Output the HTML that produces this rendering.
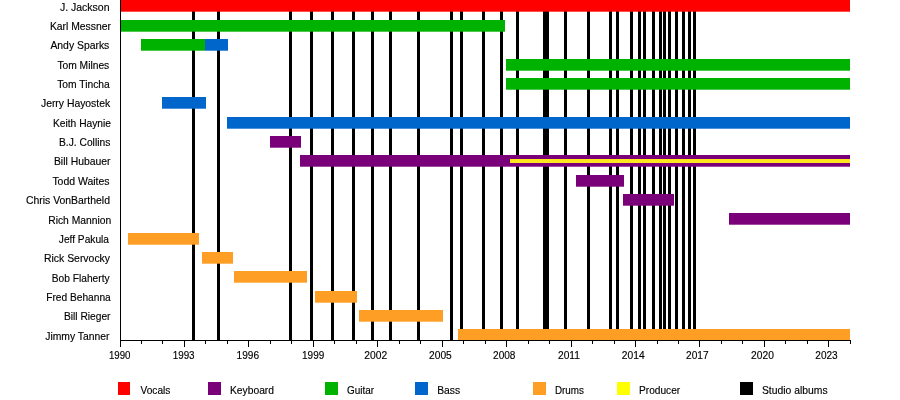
<!DOCTYPE html>
<html lang="en"><head><meta charset="utf-8"><title>Timeline</title>
<style>html,body{margin:0;padding:0;background:#fff}body{width:900px;height:400px;overflow:hidden}svg{display:block;will-change:transform}text{font-family:"Liberation Sans",sans-serif;font-size:11px;fill:#000;stroke:#000;stroke-width:0.15px}</style></head><body>
<svg width="900" height="400" viewBox="0 0 900 400">
<rect x="0" y="0" width="900" height="400" fill="#ffffff"/>
<g fill="#000" shape-rendering="crispEdges">
<rect x="192" y="0" width="3" height="340"/>
<rect x="217" y="0" width="3" height="340"/>
<rect x="289" y="0" width="3" height="340"/>
<rect x="310" y="0" width="3" height="340"/>
<rect x="331" y="0" width="3" height="340"/>
<rect x="352" y="0" width="3" height="340"/>
<rect x="371" y="0" width="3" height="340"/>
<rect x="389" y="0" width="3" height="340"/>
<rect x="417" y="0" width="3" height="340"/>
<rect x="450" y="0" width="3" height="340"/>
<rect x="460" y="0" width="3" height="340"/>
<rect x="482" y="0" width="3" height="340"/>
<rect x="500" y="0" width="3" height="340"/>
<rect x="516" y="0" width="3" height="340"/>
<rect x="543" y="0" width="6" height="340"/>
<rect x="564" y="0" width="3" height="340"/>
<rect x="587" y="0" width="3" height="340"/>
<rect x="609" y="0" width="3" height="340"/>
<rect x="616" y="0" width="3" height="340"/>
<rect x="630" y="0" width="3" height="340"/>
<rect x="638" y="0" width="3" height="340"/>
<rect x="643" y="0" width="3" height="340"/>
<rect x="652" y="0" width="3" height="340"/>
<rect x="659" y="0" width="3" height="340"/>
<rect x="663" y="0" width="3" height="340"/>
<rect x="668" y="0" width="3" height="340"/>
<rect x="675" y="0" width="3" height="340"/>
<rect x="682" y="0" width="3" height="340"/>
<rect x="688" y="0" width="3" height="340"/>
<rect x="693" y="0" width="3" height="340"/>
</g>
<g>
<rect x="120" y="0" width="730" height="11.7" fill="#ff0000"/>
<rect x="120" y="20" width="385" height="11.7" fill="#00b200"/>
<rect x="141" y="39" width="64" height="11.7" fill="#00b200"/>
<rect x="205" y="39" width="23" height="11.7" fill="#0066cc"/>
<rect x="506" y="59" width="344" height="11.7" fill="#00b200"/>
<rect x="506" y="78" width="344" height="11.7" fill="#00b200"/>
<rect x="162" y="97" width="44" height="11.7" fill="#0066cc"/>
<rect x="227" y="117" width="623" height="11.7" fill="#0066cc"/>
<rect x="270" y="136" width="31" height="11.7" fill="#7a007a"/>
<rect x="300" y="155" width="550" height="11.7" fill="#7a007a"/>
<rect x="576" y="175" width="48" height="11.7" fill="#7a007a"/>
<rect x="623" y="194" width="51" height="11.7" fill="#7a007a"/>
<rect x="729" y="213" width="121" height="11.7" fill="#7a007a"/>
<rect x="128" y="233" width="71" height="11.7" fill="#ff9e24"/>
<rect x="202" y="252" width="31" height="11.7" fill="#ff9e24"/>
<rect x="234" y="271" width="73" height="11.7" fill="#ff9e24"/>
<rect x="315" y="291" width="42" height="11.7" fill="#ff9e24"/>
<rect x="359" y="310" width="84" height="11.7" fill="#ff9e24"/>
<rect x="458" y="329" width="392" height="11.7" fill="#ff9e24"/>
<rect x="510" y="159" width="340" height="4" fill="#ffe61e"/>
</g>
<g fill="#000" shape-rendering="crispEdges">
<rect x="120" y="0" width="1" height="341"/>
<rect x="120" y="340" width="731" height="1"/>
<rect x="120" y="341" width="1" height="6"/>
<rect x="141" y="341" width="1" height="3"/>
<rect x="162" y="341" width="1" height="3"/>
<rect x="184" y="341" width="1" height="6"/>
<rect x="205" y="341" width="1" height="3"/>
<rect x="227" y="341" width="1" height="3"/>
<rect x="248" y="341" width="1" height="6"/>
<rect x="270" y="341" width="1" height="3"/>
<rect x="291" y="341" width="1" height="3"/>
<rect x="313" y="341" width="1" height="6"/>
<rect x="334" y="341" width="1" height="3"/>
<rect x="356" y="341" width="1" height="3"/>
<rect x="377" y="341" width="1" height="6"/>
<rect x="399" y="341" width="1" height="3"/>
<rect x="420" y="341" width="1" height="3"/>
<rect x="442" y="341" width="1" height="6"/>
<rect x="463" y="341" width="1" height="3"/>
<rect x="485" y="341" width="1" height="3"/>
<rect x="506" y="341" width="1" height="6"/>
<rect x="528" y="341" width="1" height="3"/>
<rect x="549" y="341" width="1" height="3"/>
<rect x="571" y="341" width="1" height="6"/>
<rect x="592" y="341" width="1" height="3"/>
<rect x="614" y="341" width="1" height="3"/>
<rect x="635" y="341" width="1" height="6"/>
<rect x="657" y="341" width="1" height="3"/>
<rect x="678" y="341" width="1" height="3"/>
<rect x="699" y="341" width="1" height="6"/>
<rect x="721" y="341" width="1" height="3"/>
<rect x="742" y="341" width="1" height="3"/>
<rect x="764" y="341" width="1" height="6"/>
<rect x="785" y="341" width="1" height="3"/>
<rect x="807" y="341" width="1" height="3"/>
<rect x="828" y="341" width="1" height="6"/>
<rect x="850" y="341" width="1" height="3"/>
</g>
<g>
<text x="59.95" y="11.00" textLength="49.62" lengthAdjust="spacingAndGlyphs">J. Jackson</text>
<text x="49.91" y="30.00" textLength="60.99" lengthAdjust="spacingAndGlyphs">Karl Messner</text>
<text x="50.41" y="49.00" textLength="58.92" lengthAdjust="spacingAndGlyphs">Andy Sparks</text>
<text x="57.40" y="69.00" textLength="51.85" lengthAdjust="spacingAndGlyphs">Tom Milnes</text>
<text x="57.16" y="88.00" textLength="52.59" lengthAdjust="spacingAndGlyphs">Tom Tincha</text>
<text x="40.95" y="107.00" textLength="69.21" lengthAdjust="spacingAndGlyphs">Jerry Hayostek</text>
<text x="52.98" y="127.00" textLength="58.04" lengthAdjust="spacingAndGlyphs">Keith Haynie</text>
<text x="58.98" y="146.00" textLength="51.34" lengthAdjust="spacingAndGlyphs">B.J. Collins</text>
<text x="53.92" y="165.00" textLength="56.57" lengthAdjust="spacingAndGlyphs">Bill Hubauer</text>
<text x="52.40" y="185.00" textLength="57.18" lengthAdjust="spacingAndGlyphs">Todd Waites</text>
<text x="25.94" y="204.00" textLength="84.00" lengthAdjust="spacingAndGlyphs">Chris VonBartheld</text>
<text x="48.20" y="224.00" textLength="63.01" lengthAdjust="spacingAndGlyphs">Rich Mannion</text>
<text x="58.82" y="243.00" textLength="50.16" lengthAdjust="spacingAndGlyphs">Jeff Pakula</text>
<text x="43.95" y="262.00" textLength="66.11" lengthAdjust="spacingAndGlyphs">Rick Servocky</text>
<text x="51.84" y="282.00" textLength="57.76" lengthAdjust="spacingAndGlyphs">Bob Flaherty</text>
<text x="46.22" y="301.00" textLength="64.54" lengthAdjust="spacingAndGlyphs">Fred Behanna</text>
<text x="63.95" y="320.00" textLength="46.60" lengthAdjust="spacingAndGlyphs">Bill Rieger</text>
<text x="45.22" y="340.00" textLength="64.26" lengthAdjust="spacingAndGlyphs">Jimmy Tanner</text>
<text x="108.91" y="359.00" textLength="21.62" lengthAdjust="spacingAndGlyphs">1990</text>
<text x="172.69" y="359.00" textLength="21.92" lengthAdjust="spacingAndGlyphs">1993</text>
<text x="236.56" y="359.00" textLength="22.55" lengthAdjust="spacingAndGlyphs">1996</text>
<text x="302.00" y="359.00" textLength="22.28" lengthAdjust="spacingAndGlyphs">1999</text>
<text x="364.30" y="359.00" textLength="22.80" lengthAdjust="spacingAndGlyphs">2002</text>
<text x="429.02" y="359.00" textLength="22.77" lengthAdjust="spacingAndGlyphs">2005</text>
<text x="493.07" y="359.00" textLength="22.41" lengthAdjust="spacingAndGlyphs">2008</text>
<text x="558.01" y="359.00" textLength="21.98" lengthAdjust="spacingAndGlyphs">2011</text>
<text x="621.77" y="359.00" textLength="22.88" lengthAdjust="spacingAndGlyphs">2014</text>
<text x="686.09" y="359.00" textLength="22.53" lengthAdjust="spacingAndGlyphs">2017</text>
<text x="751.07" y="359.00" textLength="22.82" lengthAdjust="spacingAndGlyphs">2020</text>
<text x="815.30" y="359.00" textLength="22.38" lengthAdjust="spacingAndGlyphs">2023</text>
</g>
<g>
<rect x="118" y="382" width="12" height="13" fill="#ff0000" shape-rendering="crispEdges"/>
<text x="140.51" y="394.00" textLength="29.89" lengthAdjust="spacingAndGlyphs">Vocals</text>
<rect x="208" y="382" width="13" height="13" fill="#7a007a" shape-rendering="crispEdges"/>
<text x="229.98" y="394.00" textLength="44.03" lengthAdjust="spacingAndGlyphs">Keyboard</text>
<rect x="325" y="382" width="13" height="13" fill="#00b200" shape-rendering="crispEdges"/>
<text x="347.02" y="394.00" textLength="27.11" lengthAdjust="spacingAndGlyphs">Guitar</text>
<rect x="415" y="382" width="13" height="13" fill="#0066cc" shape-rendering="crispEdges"/>
<text x="437.16" y="394.00" textLength="22.92" lengthAdjust="spacingAndGlyphs">Bass</text>
<rect x="533" y="382" width="13" height="13" fill="#ff9e24" shape-rendering="crispEdges"/>
<text x="554.98" y="394.00" textLength="28.94" lengthAdjust="spacingAndGlyphs">Drums</text>
<rect x="617" y="382" width="13" height="13" fill="#ffff00" shape-rendering="crispEdges"/>
<text x="639.01" y="394.00" textLength="41.20" lengthAdjust="spacingAndGlyphs">Producer</text>
<rect x="740" y="382" width="13" height="13" fill="#000000" shape-rendering="crispEdges"/>
<text x="761.93" y="394.00" textLength="65.73" lengthAdjust="spacingAndGlyphs">Studio albums</text>
</g>
</svg></body></html>
